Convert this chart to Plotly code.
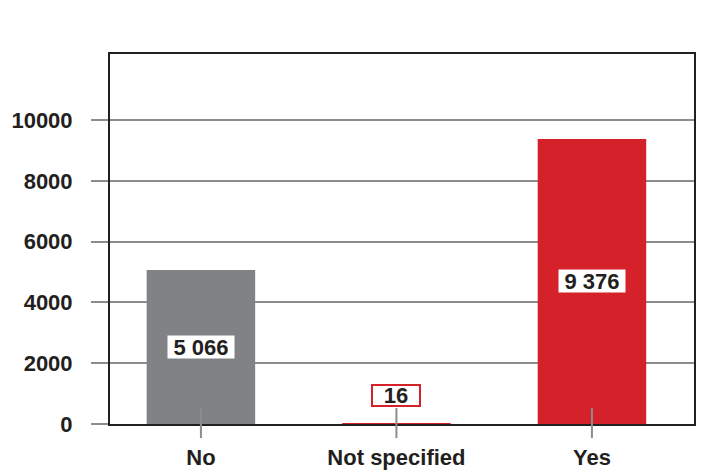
import plotly.graph_objects as go

# Responses per category
categories = ["No", "Not specified", "Yes"]
counts = [5066, 16, 9376]
bar_colors = ["#818285", "#d4212a", "#d4212a"]
y_ticks = [0, 2000, 4000, 6000, 8000, 10000]

INK = "#231f20"
GRID = "#8c8c8e"
RED = "#d4212a"
FONT = "Liberation Sans, Arial, sans-serif"


def fmt(v):
    return f"{v:,}".replace(",", " ")


fig = go.Figure(
    go.Bar(
        x=categories,
        y=counts,
        marker=dict(color=bar_colors, line=dict(width=0)),
        width=0.555,
        hoverinfo="skip",
    )
)

# value labels: white boxes centred in the bars, the tiny one boxed in red above
for cat, val in zip(categories, counts):
    if val < 500:
        fig.add_annotation(
            x=cat, y=val, yanchor="bottom", yshift=17, text=fmt(val),
            showarrow=False, bgcolor="white", bordercolor=RED, borderwidth=2,
            borderpad=0, width=46, height=19,
            font=dict(family=FONT, size=22, weight="bold", color=INK),
        )
    else:
        fig.add_annotation(
            x=cat, y=val / 2, yanchor="middle", text=fmt(val),
            showarrow=False, bgcolor="white", borderpad=0, width=66, height=22,
            font=dict(family=FONT, size=22, weight="bold", color=INK),
        )

# category tick marks crossing the baseline
for cat in categories:
    fig.add_shape(
        type="line", xref="x", yref="paper", x0=cat, x1=cat,
        y0=0.043, y1=-0.038, line=dict(color=GRID, width=2), layer="above",
    )

fig.update_layout(
    width=702,
    height=472,
    margin=dict(l=110, r=8, t=54, b=48),
    paper_bgcolor="white",
    plot_bgcolor="white",
    showlegend=False,
    bargap=0.4,
)

fig.update_xaxes(
    type="category",
    range=[-0.465, 2.522],
    automargin=False,
    showline=True, mirror=True, linecolor=INK, linewidth=2,
    layer="below traces",
    ticks="", showgrid=False,
    ticklabelstandoff=13,
    tickfont=dict(family=FONT, size=22, weight="bold", color=INK),
)

fig.update_yaxes(
    range=[0, 12171],
    automargin=False,
    tickvals=y_ticks,
    ticktext=[str(t) for t in y_ticks],
    showline=True, mirror=True, linecolor=INK, linewidth=2,
    layer="below traces",
    showgrid=True, gridcolor=GRID, gridwidth=2,
    zeroline=False,
    ticks="outside", ticklen=17, tickcolor=GRID, tickwidth=2,
    ticklabelstandoff=14,
    tickfont=dict(family=FONT, size=22, weight="bold", color=INK),
)

fig.write_html("out.html")
